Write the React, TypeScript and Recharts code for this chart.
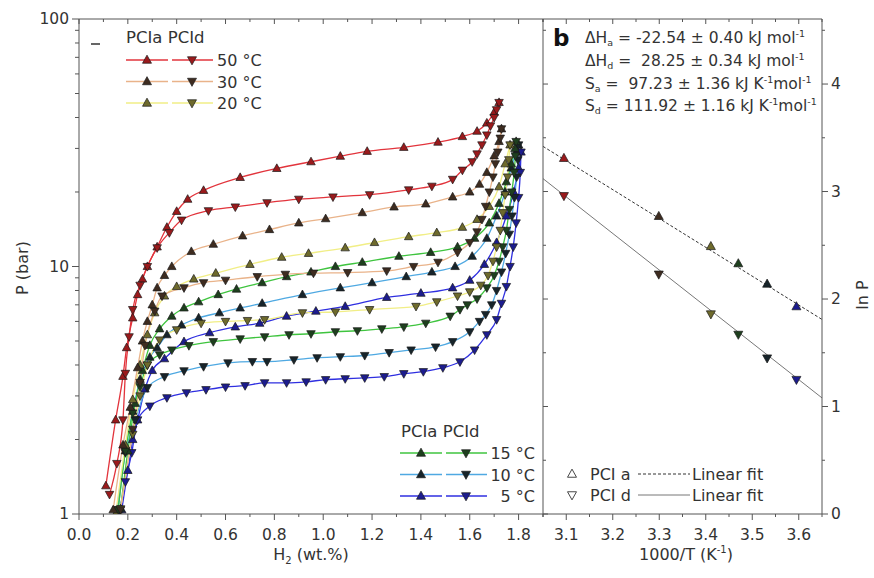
import React from "react";
import { LineChart, Line, XAxis, YAxis } from "recharts";

type XY = [number, number];

// ---- panel a: PCI isotherms, [H2 wt.%, P bar] ----
const ads50: XY[] = [[0.11,1.3],[0.15,2.4],[0.18,3.6],[0.195,4.7],[0.22,6.2],[0.24,7.7],[0.26,8.9],[0.28,10],[0.32,12],[0.36,14.4],[0.40,16.7],[0.445,18.7],[0.51,20.3],[0.66,22.9],[0.81,24.9],[0.95,26.5],[1.07,27.9],[1.18,29.2],[1.33,30.3],[1.47,31.8],[1.57,33.5],[1.63,35.2],[1.67,38],[1.70,42],[1.72,46]];
const des50: XY[] = [[1.72,46],[1.71,43],[1.70,40],[1.685,37],[1.67,34],[1.65,31],[1.63,28.5],[1.61,26.5],[1.57,24.5],[1.53,22.5],[1.445,21.1],[1.35,20.4],[1.19,19.5],[1.04,19.1],[0.90,18.7],[0.77,18.1],[0.64,17.4],[0.53,16.8],[0.42,15.4],[0.37,13.7],[0.32,11.9],[0.28,10],[0.25,8.4],[0.22,6.7],[0.205,5.2],[0.19,3.7],[0.18,2.4],[0.155,1.6],[0.125,1.2]];
const ads30: XY[] = [[0.14,1.04],[0.18,1.9],[0.21,2.7],[0.24,3.9],[0.26,5.0],[0.28,6.0],[0.30,7.0],[0.32,8.2],[0.35,9.2],[0.38,10],[0.46,11.5],[0.55,12.3],[0.67,13.3],[0.78,14.1],[0.90,15.0],[1.01,15.6],[1.16,16.5],[1.29,17.4],[1.42,17.9],[1.53,19.1],[1.60,20.0],[1.64,21.5],[1.67,24],[1.70,28],[1.72,32],[1.73,36]];
const des30: XY[] = [[1.73,36],[1.725,33],[1.715,29],[1.705,26],[1.695,23],[1.68,20],[1.665,17.5],[1.65,15.5],[1.63,13.8],[1.60,12.5],[1.55,11.4],[1.47,10.4],[1.37,10.0],[1.26,9.6],[1.10,9.45],[0.96,9.4],[0.845,9.3],[0.73,9.1],[0.60,8.8],[0.51,8.6],[0.43,8.2],[0.34,7.6],[0.31,6.6],[0.27,4.8],[0.25,3.4],[0.22,2.2],[0.17,1.04]];
const ads20: XY[] = [[0.15,1.0],[0.19,1.9],[0.22,2.9],[0.25,4.0],[0.28,5.3],[0.31,6.5],[0.35,7.6],[0.40,8.3],[0.47,8.9],[0.56,9.4],[0.70,10.2],[0.83,10.9],[0.94,11.3],[1.09,11.9],[1.21,12.5],[1.35,13.2],[1.465,13.7],[1.57,14.4],[1.63,15.5],[1.68,17.5],[1.72,21],[1.745,26],[1.765,31]];
const des20: XY[] = [[1.765,31],[1.76,27],[1.755,23],[1.745,19.5],[1.735,16.5],[1.725,14],[1.71,12],[1.695,10.5],[1.675,9.2],[1.645,8.4],[1.60,7.9],[1.55,7.6],[1.465,7.2],[1.38,6.9],[1.19,6.7],[1.05,6.55],[0.915,6.5],[0.76,6.1],[0.69,6.05],[0.60,6.0],[0.50,5.9],[0.40,5.55],[0.33,5.05],[0.28,4.0],[0.25,3.0],[0.22,2.1],[0.17,1.05]];
const ads15: XY[] = [[0.17,1.05],[0.20,1.8],[0.23,2.8],[0.26,3.8],[0.29,4.8],[0.33,5.6],[0.38,6.3],[0.43,6.8],[0.49,7.2],[0.57,7.7],[0.645,8.1],[0.75,8.6],[0.85,9.1],[0.95,9.5],[1.05,10.0],[1.16,10.4],[1.31,11.0],[1.44,11.4],[1.55,12.0],[1.62,13],[1.68,15],[1.72,18],[1.75,22],[1.77,26],[1.785,30],[1.79,32]];
const des15: XY[] = [[1.79,32],[1.787,28],[1.782,24],[1.772,20],[1.762,17],[1.75,14],[1.735,12],[1.72,10.5],[1.70,9.2],[1.67,8.2],[1.63,7.4],[1.59,7.0],[1.56,6.7],[1.52,6.3],[1.42,5.9],[1.33,5.7],[1.24,5.6],[1.14,5.5],[1.05,5.45],[0.95,5.35],[0.86,5.3],[0.76,5.2],[0.66,5.1],[0.55,4.97],[0.45,4.79],[0.38,4.6],[0.33,4.4],[0.28,4.0],[0.25,3.27],[0.22,2.56],[0.19,1.8],[0.16,1.04]];
const ads10: XY[] = [[0.16,1.04],[0.19,1.8],[0.22,2.6],[0.25,3.5],[0.29,4.3],[0.32,4.7],[0.36,5.3],[0.42,5.8],[0.49,6.2],[0.575,6.5],[0.66,6.8],[0.75,7.1],[0.915,7.7],[1.07,8.2],[1.20,8.6],[1.34,9.1],[1.445,9.5],[1.54,10.0],[1.61,11.0],[1.67,13],[1.71,16],[1.745,20],[1.77,25],[1.79,29],[1.80,31]];
const des10: XY[] = [[1.80,31],[1.797,27],[1.792,23],[1.783,19],[1.773,16],[1.762,13.5],[1.747,11.3],[1.73,9.5],[1.71,8.0],[1.69,7.0],[1.665,6.4],[1.64,6.0],[1.60,5.45],[1.53,4.97],[1.46,4.73],[1.36,4.6],[1.27,4.49],[1.17,4.37],[1.07,4.32],[0.975,4.28],[0.88,4.2],[0.77,4.13],[0.71,4.13],[0.61,4.08],[0.51,3.94],[0.43,3.79],[0.35,3.59],[0.28,3.24],[0.23,2.4],[0.19,1.77],[0.155,1.04]];
const ads5: XY[] = [[0.175,1.04],[0.20,1.5],[0.22,2.0],[0.24,2.4],[0.27,3.2],[0.30,3.8],[0.35,4.24],[0.43,4.97],[0.535,5.4],[0.64,5.7],[0.74,5.9],[0.85,6.3],[0.97,6.6],[1.09,6.9],[1.26,7.5],[1.40,7.8],[1.53,8.2],[1.60,8.8],[1.66,10.2],[1.71,12.5],[1.75,16],[1.78,20],[1.80,25],[1.81,29]];
const des5: XY[] = [[1.81,29],[1.807,24],[1.80,19],[1.79,15],[1.778,12],[1.765,10],[1.75,8.3],[1.73,7.1],[1.71,6.1],[1.67,5.3],[1.62,4.6],[1.56,4.12],[1.49,3.9],[1.41,3.76],[1.33,3.69],[1.25,3.59],[1.17,3.55],[1.09,3.52],[1.01,3.49],[0.93,3.42],[0.85,3.39],[0.76,3.39],[0.68,3.3],[0.60,3.26],[0.52,3.18],[0.44,3.09],[0.36,2.95],[0.29,2.73],[0.24,2.4],[0.216,1.77],[0.19,1.35],[0.167,1.04]];

const TEMPS = ["50 °C", "30 °C", "20 °C", "15 °C", "10 °C", "5 °C"];
const ADS = [ads50, ads30, ads20, ads15, ads10, ads5];
const DES = [des50, des30, des20, des15, des10, des5];

const H_TICKS = [0, 0.1, 0.2, 0.3, 0.4, 0.5, 0.6, 0.7, 0.8, 0.9, 1.0, 1.1, 1.2, 1.3, 1.4, 1.5, 1.6, 1.7, 1.8, 1.9];
const P_TICKS = [1, 2, 3, 4, 5, 6, 7, 8, 9, 10, 20, 30, 40, 50, 60, 70, 80, 90, 100];
const P_MAJOR = [1, 10, 100];

// ---- panel b: van't Hoff plot ----
const INV_T = [3.095, 3.299, 3.411, 3.47, 3.532, 3.595];
const LNP_ADS = [3.31, 2.77, 2.49, 2.33, 2.14, 1.93];
const LNP_DES = [2.96, 2.23, 1.86, 1.67, 1.45, 1.25];
const FIT_ADS: XY[] = [[3.05, 3.42], [3.65, 1.81]];
const FIT_DES: XY[] = [[3.05, 3.12], [3.65, 1.08]];
const T_TICKS = [3.05, 3.1, 3.15, 3.2, 3.25, 3.3, 3.35, 3.4, 3.45, 3.5, 3.55, 3.6, 3.65];
const LNP_TICKS = [0, 0.5, 1, 1.5, 2, 2.5, 3, 3.5, 4, 4.5];

// styling
const LINE_COLORS = ["#e2343c", "#e9b38a", "#f1ee86", "#3fc43f", "#4fa9e2", "#2f2fe0"];
const MARK_COLORS = ["#9a1a1c", "#3e2c20", "#6e6a2c", "#1e3f1e", "#17242a", "#1c1c8e"];
const AX = "#555";
const FONT = "'DejaVu Sans', sans-serif";
const TXT = "#333";

const isMajor = (v: number, step: number) => Math.abs(v / step - Math.round(v / step)) < 1e-6;

function Tri(props: any) {
  const { cx, cy, up, mfill, mstroke = "#1a1a1a", size = 8.5, sw = 0.7 } = props;
  if (cx == null || cy == null || isNaN(cx) || isNaN(cy)) return <g />;
  const hw = size / 2;
  const h = size * 0.9;
  const pts = up
    ? `${cx},${cy - h * 0.6} ${cx - hw},${cy + h * 0.4} ${cx + hw},${cy + h * 0.4}`
    : `${cx},${cy + h * 0.6} ${cx - hw},${cy - h * 0.4} ${cx + hw},${cy - h * 0.4}`;
  return <polygon points={pts} fill={mfill} stroke={mstroke} strokeWidth={sw} />;
}

function BottomTick(props: any) {
  const { x, payload, axisY, step } = props;
  const major = isMajor(payload.value, step);
  return (
    <g>
      <line x1={x} x2={x} y1={axisY} y2={axisY + (major ? 6 : 3)} stroke={AX} />
      {major && (
        <text x={x} y={axisY + 26} textAnchor="middle" fontSize={15.5} fontFamily={FONT} fill={TXT}>
          {payload.value.toFixed(1)}
        </text>
      )}
    </g>
  );
}

function TopTick(props: any) {
  const { x, payload, axisY, step } = props;
  const major = isMajor(payload.value, step);
  return <line x1={x} x2={x} y1={axisY} y2={axisY + (major ? 5 : 3)} stroke={AX} />;
}

function LogTick(props: any) {
  const { y, payload, axisX } = props;
  const major = P_MAJOR.includes(payload.value);
  return (
    <g>
      <line x1={axisX - (major ? 7 : 4)} x2={axisX} y1={y} y2={y} stroke={AX} />
      {major && (
        <text x={axisX - 10} y={y + 5} textAnchor="end" fontSize={15.5} fontFamily={FONT} fill={TXT}>
          {payload.value}
        </text>
      )}
    </g>
  );
}

function RightTick(props: any) {
  const { y, payload, axisX } = props;
  const major = isMajor(payload.value, 1);
  return (
    <g>
      <line x1={axisX} x2={axisX + (major ? 6 : 3)} y1={y} y2={y} stroke={AX} />
      {major && (
        <text x={axisX + 9} y={y + 5} textAnchor="start" fontSize={15.5} fontFamily={FONT} fill={TXT}>
          {payload.value}
        </text>
      )}
    </g>
  );
}

function InLeftTick(props: any) {
  const { y, payload, axisX } = props;
  const major = isMajor(payload.value, 1);
  return <line x1={axisX} x2={axisX + (major ? 5 : 3)} y1={y} y2={y} stroke={AX} />;
}

function LegendRow({ y, i, x0, textX, anchor }: any) {
  return (
    <g>
      <line x1={x0} x2={x0 + 42} y1={y} y2={y} stroke={LINE_COLORS[i]} strokeWidth={1.5} />
      <line x1={x0 + 46} x2={x0 + 87} y1={y} y2={y} stroke={LINE_COLORS[i]} strokeWidth={1.5} />
      <Tri cx={x0 + 21} cy={y} up mfill={MARK_COLORS[i]} size={9} />
      <Tri cx={x0 + 66} cy={y} up={false} mfill={MARK_COLORS[i]} size={9} />
      <text x={textX} y={y + 6} textAnchor={anchor} fontSize={16} fontFamily={FONT} fill={TXT}>
        {TEMPS[i]}
      </text>
    </g>
  );
}

export default function App() {
  const series = TEMPS.map((t, i) => ({
    t,
    i,
    ads: ADS[i].map(([h, p]) => ({ h, p })),
    des: DES[i].map(([h, p]) => ({ h, p })),
  })).reverse();

  const vhAds = INV_T.map((x, i) => ({ x, y: LNP_ADS[i], c: MARK_COLORS[i] }));
  const vhDes = INV_T.map((x, i) => ({ x, y: LNP_DES[i], c: MARK_COLORS[i] }));
  const fitAds = FIT_ADS.map(([x, y]) => ({ x, y }));
  const fitDes = FIT_DES.map(([x, y]) => ({ x, y }));

  return (
    <div style={{ position: "absolute", left: 0, top: 0, width: 874, height: 578, background: "#fff" }}>
      <div style={{ position: "absolute", left: 0, top: 0 }}>
        <LineChart width={560} height={578} margin={{ top: 18, right: 17, left: 0, bottom: 0 }}>
          <XAxis xAxisId="b" type="number" dataKey="h" domain={[0, 1.9]} ticks={H_TICKS} interval={0} height={64}
            allowDataOverflow axisLine={{ stroke: AX }} tickLine={false} tick={<BottomTick axisY={514} step={0.2} />} />
          <XAxis xAxisId="t" orientation="top" type="number" dataKey="h" domain={[0, 1.9]} ticks={H_TICKS} interval={0}
            height={1} allowDataOverflow axisLine={false} tickLine={false} tick={<TopTick axisY={19} step={0.2} />} />
          <YAxis type="number" scale="log" domain={[1, 100]} ticks={P_TICKS} interval={0} width={79} allowDataOverflow
            axisLine={{ stroke: AX }} tickLine={false} tick={<LogTick axisX={79} />} />
          {/* invisible series so the top tick axis is laid out */}
          <Line xAxisId="t" data={series[0].ads} dataKey="p" stroke="none" dot={false} isAnimationActive={false} />
          {series.flatMap((s) => [
            <Line key={`a${s.i}`} xAxisId="b" data={s.ads} dataKey="p" type="monotone" stroke={LINE_COLORS[s.i]}
              strokeWidth={1.3} isAnimationActive={false} dot={<Tri up mfill={MARK_COLORS[s.i]} />} />,
            <Line key={`d${s.i}`} xAxisId="b" data={s.des} dataKey="p" type="monotone" stroke={LINE_COLORS[s.i]}
              strokeWidth={1.3} isAnimationActive={false} dot={<Tri up={false} mfill={MARK_COLORS[s.i]} />} />,
          ])}
        </LineChart>
      </div>

      <div style={{ position: "absolute", left: 500, top: 0 }}>
        <LineChart width={374} height={578} margin={{ top: 18, right: 0, left: 42, bottom: 0 }}>
          <XAxis xAxisId="b" type="number" dataKey="x" domain={[3.05, 3.65]} ticks={T_TICKS} interval={0} height={64}
            allowDataOverflow axisLine={{ stroke: AX }} tickLine={false} tick={<BottomTick axisY={514} step={0.1} />} />
          <XAxis xAxisId="t" orientation="top" type="number" dataKey="x" domain={[3.05, 3.65]} ticks={T_TICKS} interval={0}
            height={1} allowDataOverflow axisLine={false} tickLine={false} tick={<TopTick axisY={19} step={0.1} />} />
          <YAxis yAxisId="r" orientation="right" type="number" domain={[0, 4.605]} ticks={LNP_TICKS} interval={0} width={52}
            allowDataOverflow axisLine={{ stroke: AX }} tickLine={false} tick={<RightTick axisX={322} />} />
          <YAxis yAxisId="l" orientation="left" type="number" domain={[0, 4.605]} ticks={LNP_TICKS} interval={0} width={1}
            allowDataOverflow axisLine={false} tickLine={false} tick={<InLeftTick axisX={43} />} />
          {/* invisible series so the top and left tick axes are laid out */}
          <Line xAxisId="t" yAxisId="l" data={fitAds} dataKey="y" stroke="none" dot={false} isAnimationActive={false} />
          <Line xAxisId="b" yAxisId="r" data={fitAds} dataKey="y" type="linear" stroke="#333" strokeWidth={1}
            strokeDasharray="3 2" dot={false} isAnimationActive={false} />
          <Line xAxisId="b" yAxisId="r" data={fitDes} dataKey="y" type="linear" stroke="#777" strokeWidth={1}
            dot={false} isAnimationActive={false} />
          <Line xAxisId="b" yAxisId="r" data={vhAds} dataKey="y" stroke="none" isAnimationActive={false}
            dot={(p: any) => <Tri key={`va${p.index}`} cx={p.cx} cy={p.cy} up mfill={p.payload.c} size={9} />} />
          <Line xAxisId="b" yAxisId="r" data={vhDes} dataKey="y" stroke="none" isAnimationActive={false}
            dot={(p: any) => <Tri key={`vd${p.index}`} cx={p.cx} cy={p.cy} up={false} mfill={p.payload.c} size={9} />} />
        </LineChart>
      </div>

      <svg width={874} height={578} style={{ position: "absolute", left: 0, top: 0, pointerEvents: "none" }}
        fontFamily={FONT} fill={TXT}>
        {/* frame: top border and panel divider */}
        <line x1={79} x2={822} y1={19} y2={19} stroke={AX} />
        <line x1={543} x2={543} y1={19} y2={514} stroke={AX} />

        {/* axis titles */}
        <text transform="translate(28,268) rotate(-90)" textAnchor="middle" fontSize={16}>P (bar)</text>
        <text x={311} y={560} textAnchor="middle" fontSize={16}>
          H<tspan fontSize={10} dy={4}>2</tspan><tspan dy={-4}> (wt.%)</tspan>
        </text>
        <text x={686} y={560} textAnchor="middle" fontSize={16}>
          1000/T (K<tspan fontSize={10} dy={-7}>-1</tspan><tspan dy={7}>)</tspan>
        </text>
        <text transform="translate(868,295) rotate(-90)" textAnchor="middle" fontSize={16}>ln P</text>

        {/* legend, upper left */}
        <line x1={91} x2={100} y1={44} y2={44} stroke="#333" strokeWidth={1.5} />
        <text x={126} y={43} fontSize={16.5}>PCIa PCId</text>
        {[0, 1, 2].map((i, k) => (
          <LegendRow key={i} i={i} y={60 + k * 21.5} x0={126} textX={217} anchor="start" />
        ))}

        {/* legend, lower */}
        <text x={401} y={437} fontSize={16.5}>PCIa PCId</text>
        {[3, 4, 5].map((i, k) => (
          <LegendRow key={i} i={i} y={453 + k * 21.5} x0={400} textX={535} anchor="end" />
        ))}

        {/* panel b annotations */}
        <text x={553} y={46} fontSize={23} fontWeight="bold" fill="#111">b</text>
        <g fontSize={15.5}>
          <text x={585} y={43} xmlSpace="preserve">ΔH<tspan fontSize={9.5} dy={3}>a</tspan><tspan dy={-3}> = -22.54 ± 0.40 kJ mol</tspan><tspan fontSize={9.5} dy={-6}>-1</tspan></text>
          <text x={585} y={66} xmlSpace="preserve">ΔH<tspan fontSize={9.5} dy={3}>d</tspan><tspan dy={-3}> =  28.25 ± 0.34 kJ mol</tspan><tspan fontSize={9.5} dy={-6}>-1</tspan></text>
          <text x={585} y={89} xmlSpace="preserve">S<tspan fontSize={9.5} dy={3}>a</tspan><tspan dy={-3}> =  97.23 ± 1.36 kJ K</tspan><tspan fontSize={9.5} dy={-6}>-1</tspan><tspan dy={6}>mol</tspan><tspan fontSize={9.5} dy={-6}>-1</tspan></text>
          <text x={585} y={111} xmlSpace="preserve">S<tspan fontSize={9.5} dy={3}>d</tspan><tspan dy={-3}> = 111.92 ± 1.16 kJ K</tspan><tspan fontSize={9.5} dy={-6}>-1</tspan><tspan dy={6}>mol</tspan><tspan fontSize={9.5} dy={-6}>-1</tspan></text>
        </g>

        {/* panel b legend */}
        <Tri cx={572} cy={474} up mfill="#fff" mstroke="#333" size={9} sw={0.9} />
        <text x={590} y={480} fontSize={16}>PCI a</text>
        <line x1={638} x2={690} y1={474} y2={474} stroke="#333" strokeDasharray="3 2" />
        <text x={692} y={480} fontSize={16}>Linear fit</text>
        <Tri cx={572} cy={495} up={false} mfill="#fff" mstroke="#333" size={9} sw={0.9} />
        <text x={590} y={501} fontSize={16}>PCI d</text>
        <line x1={638} x2={690} y1={495} y2={495} stroke="#777" />
        <text x={692} y={501} fontSize={16}>Linear fit</text>
      </svg>
    </div>
  );
}
